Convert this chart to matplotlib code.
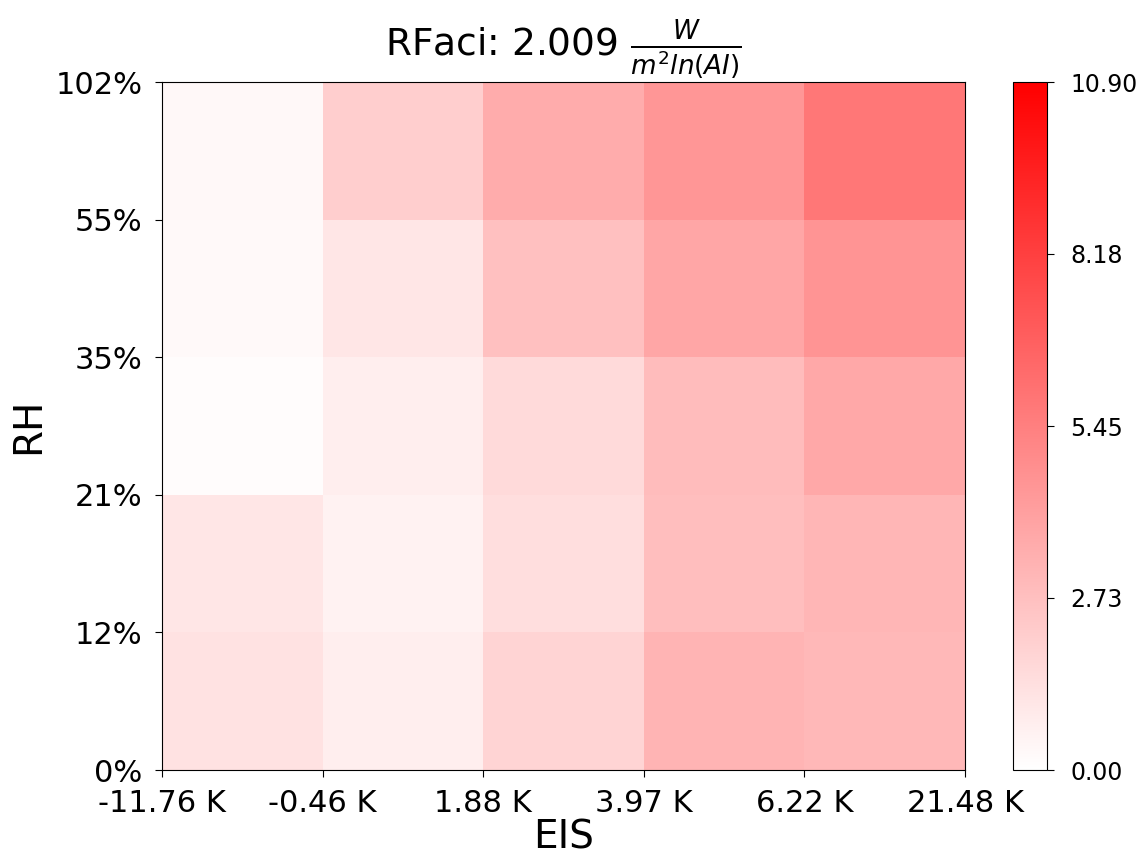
import numpy as np
import matplotlib
matplotlib.use('Agg')
import matplotlib.pyplot as plt
from matplotlib.colors import LinearSegmentedColormap

# bin edges
eis_labels = ['-11.76 K', '-0.46 K', '1.88 K', '3.97 K', '6.22 K', '21.48 K']
rh_labels = ['0%', '12%', '21%', '35%', '55%', '102%']

# rows from bottom (RH 0-12%) to top (RH 55-102%), columns EIS bins
row_0_12 = [1.24, 0.73, 1.84, 3.21, 3.03]
row_12_21 = [1.07, 0.56, 1.41, 2.78, 3.12]
row_21_35 = [0.13, 0.73, 1.58, 2.86, 3.72]
row_35_55 = [0.26, 1.07, 2.69, 3.80, 4.57]
row_55_102 = [0.30, 2.09, 3.55, 4.49, 5.81]

vmin, vmax = 0.0, 10.90
cbar_ticks = [0.00, 2.73, 5.45, 8.18, 10.90]

vals = np.array([row_0_12, row_12_21, row_21_35, row_35_55, row_55_102])

cmap = LinearSegmentedColormap.from_list('wr', ['white', 'red'])

fig = plt.figure(figsize=(11.45, 8.67), dpi=100)
ax = fig.add_axes([162/1145, 1-770/867, (965-162)/1145, (770-82)/867])
cax = fig.add_axes([1013/1145, 1-770/867, (1047-1013)/1145, (770-82)/867])

mesh = ax.pcolormesh(np.arange(6), np.arange(6), vals, cmap=cmap, vmin=vmin, vmax=vmax)
ax.set_xticks(np.arange(6))
ax.set_xticklabels(eis_labels)
ax.set_yticks(np.arange(6))
ax.set_yticklabels(rh_labels)
ax.tick_params(axis='both', labelsize=22, length=5, pad=9)
ax.set_xlabel('EIS', fontsize=28, labelpad=0)
ax.set_ylabel('RH', fontsize=28, labelpad=6)
ax.set_title(r'RFaci: 2.009 $\frac{W}{m^2 ln(AI)}$', fontsize=27, pad=10)

cb = fig.colorbar(mesh, cax=cax, ticks=cbar_ticks)
cb.ax.set_yticklabels(['%.2f' % t for t in cbar_ticks])
cb.ax.tick_params(labelsize=17, length=5, pad=12)

fig.savefig('out.png', dpi=100)
